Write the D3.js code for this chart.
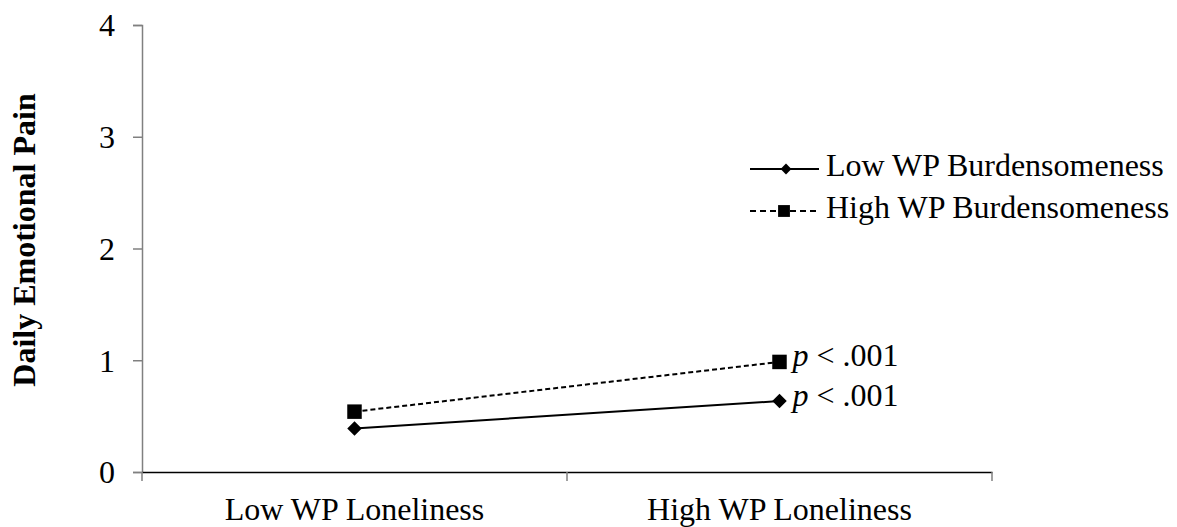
<!DOCTYPE html>
<html>
<head>
<meta charset="utf-8">
<script src="https://cdn.jsdelivr.net/npm/d3@7"></script>
<style>
  body { margin: 0; background: #fff; }
  text { font-family: "Liberation Serif", "Times New Roman", serif; fill: #000; }
</style>
</head>
<body>
<div id="chart"></div>
<script>
const categories = ["Low WP Loneliness", "High WP Loneliness"]
const seriesNames = ["Low WP Burdensomeness", "High WP Burdensomeness"]
const lowBurden = [0.39, 0.635]
const highBurden = [0.54, 0.985]
const pLabels = ["p", "p"]
const yTicks = [0, 1, 2, 3, 4]

const width = 1177, height = 527
const margin = { top: 25, right: 185, bottom: 55, left: 142 }
const fs = "32px"

const svg = d3.select("#chart").append("svg")
  .attr("width", width)
  .attr("height", height)

const x = d3.scaleBand()
  .domain(categories)
  .range([margin.left, width - margin.right])

const y = d3.scaleLinear()
  .domain([0, 4])
  .range([height - margin.bottom, margin.top])

// y axis
const yAxis = svg.append("g")
  .attr("transform", `translate(${margin.left},0)`)
  .call(d3.axisLeft(y).tickValues(yTicks).tickSize(9).tickPadding(18).tickFormat(d3.format("d")))
yAxis.select(".domain").attr("stroke", "#808080").attr("stroke-width", 1.5)
yAxis.selectAll(".tick line").attr("stroke", "#808080").attr("stroke-width", 1.5)
yAxis.selectAll(".tick text")
  .style("font-size", fs).style("font-family", "Liberation Serif")
  .attr("dy", "0.34em")

// x axis
const xAxis = svg.append("g")
  .attr("transform", `translate(0,${y(0)})`)
  .call(d3.axisBottom(x).tickSize(0).tickPadding(0))
xAxis.select(".domain").attr("stroke", "#000").attr("stroke-width", 1.5)
xAxis.selectAll(".tick text")
  .style("font-size", fs).style("font-family", "Liberation Serif")
  .attr("y", 48).attr("dy", 0)
const bounds = [margin.left, ...categories.map(c => x(c) + x.bandwidth())]
xAxis.selectAll(".bound")
  .data(bounds)
  .join("line")
  .attr("x1", d => d).attr("x2", d => d)
  .attr("y1", 0).attr("y2", 9)
  .attr("stroke", "#808080").attr("stroke-width", 1.5)

svg.append("text")
  .attr("transform", "translate(35,240) rotate(-90)")
  .attr("text-anchor", "middle")
  .style("font-size", fs)
  .style("font-weight", "bold")
  .text("Daily Emotional Pain")

const cx = c => x(c) + x.bandwidth() / 2
const line = d3.line().x((d, i) => cx(categories[i])).y(d => y(d))

svg.append("path")
  .datum(lowBurden)
  .attr("d", line)
  .attr("fill", "none").attr("stroke", "#000").attr("stroke-width", 2)

svg.append("path")
  .datum(highBurden)
  .attr("d", line)
  .attr("fill", "none").attr("stroke", "#000").attr("stroke-width", 2)
  .attr("stroke-dasharray", "5,3")

const diamond = d3.symbol().type(d3.symbolDiamond2).size(135)
const square = d3.symbol().type(d3.symbolSquare).size(210)
const diamondSm = d3.symbol().type(d3.symbolDiamond2).size(75)
const squareSm = d3.symbol().type(d3.symbolSquare).size(140)

svg.selectAll(".lowpt")
  .data(lowBurden)
  .join("path")
  .attr("d", diamond)
  .attr("transform", (d, i) => `translate(${cx(categories[i])},${y(d)})`)
  .attr("fill", "#000")

svg.selectAll(".highpt")
  .data(highBurden)
  .join("path")
  .attr("d", square)
  .attr("transform", (d, i) => `translate(${cx(categories[i])},${y(d)})`)
  .attr("fill", "#000")

// p labels next to the High WP Loneliness points
const pvals = [highBurden[1], lowBurden[1]]
pvals.forEach((v, i) => {
  const t = svg.append("text")
    .attr("x", cx(categories[1]) + 13)
    .attr("y", y(v) + 4.5)
    .style("font-size", fs)
  t.append("tspan").style("font-style", "italic").text(pLabels[i])
  t.append("tspan").text(" < .001")
})

// legend
const legend = svg.append("g").attr("transform", "translate(750,169)")
seriesNames.forEach((name, i) => {
  const g = legend.append("g").attr("transform", `translate(0,${i * 42})`)
  g.append("line")
    .attr("x1", 0).attr("x2", 69).attr("y1", 0).attr("y2", 0)
    .attr("stroke", "#000").attr("stroke-width", 2)
    .attr("stroke-dasharray", i === 1 ? "6,4" : null)
  g.append("path")
    .attr("d", i === 0 ? diamondSm : squareSm)
    .attr("transform", `translate(${i === 0 ? 36 : 34},0)`)
    .attr("fill", "#000")
  g.append("text")
    .attr("x", 76).attr("y", 7)
    .style("font-size", fs)
    .text(name)
})
</script>
</body>
</html>
